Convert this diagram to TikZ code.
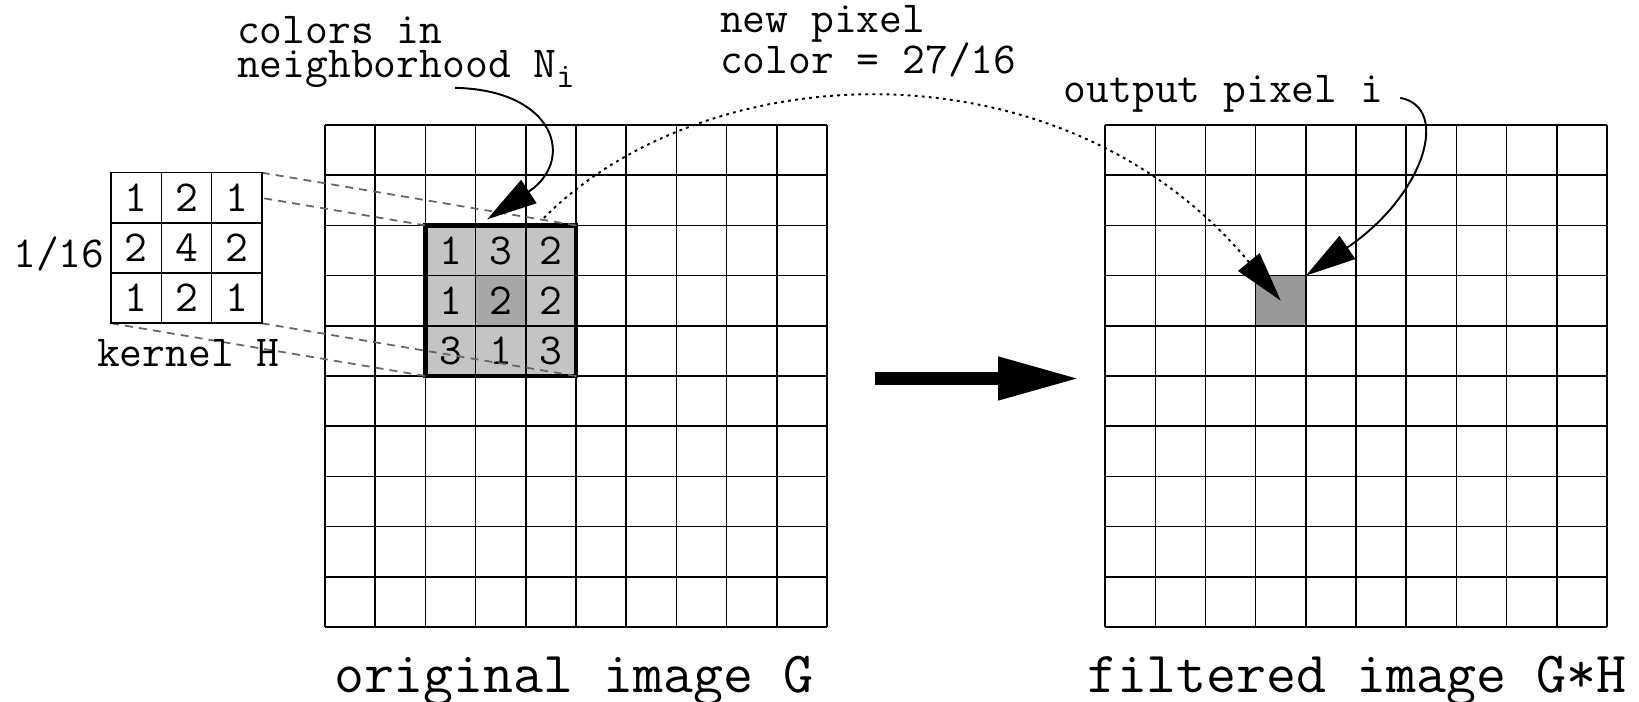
\documentclass[tikz,border=0pt]{standalone}
\usepackage{tikz}
\usepackage{xcolor}
\usetikzlibrary{calc,arrows.meta}

\definecolor{nbgray}{gray}{0.77}
\definecolor{ctrgray}{gray}{0.65}
\definecolor{outgray}{gray}{0.6}
\definecolor{persgray}{gray}{0.4}

\begin{document}
\begin{tikzpicture}[line width=0.9pt]
        \tikzstyle{every node}=[inner sep=0pt, outer sep=0pt]
        \tikzstyle{lbl}=[anchor=base west, align=left, font=\ttfamily\fontsize{25.1}{19.6}\selectfont]
        \tikzstyle{caplbl}=[anchor=base west, font=\ttfamily\fontsize{33}{33}\selectfont]
        \tikzstyle{num}=[font=\ttfamily\fontsize{25.1}{25.1}\selectfont]
        \tikzstyle{persp}=[persgray, line width=1pt, dash pattern=on 4.5pt off 3.5pt]
        \tikzstyle{pointer}=[line width=1.1pt, -{Triangle[length=1cm, width=0.55cm]}]

            \useasboundingbox (-6.474,-1.494) rectangle (26.176,12.49);

            \coordinate (G) at (0,0);
            \coordinate (F) at ($(G)+(15.54,0)$);
            \coordinate (K) at ($(G)+(-4.26,6.05)$);

            % image G with the 3x3 neighborhood
            \fill[nbgray] ($(G)+(2,5)$) rectangle ($(G)+(5,8)$);
            \fill[ctrgray] ($(G)+(3,6)$) rectangle ($(G)+(4,7)$);
            \draw[shift={(G)}] (0,0) grid (10,10);
            \node[draw, line width=2.6pt, minimum size=3cm, anchor=south west] (nbhd) at ($(G)+(2,5)$) {};

            \node[num] (g11) at ($(nbhd.center)+(-1, 1)$) {1};
            \node[num] (g12) at ($(nbhd.center)+( 0, 1)$) {3};
            \node[num] (g13) at ($(nbhd.center)+( 1, 1)$) {2};
            \node[num] (g21) at ($(nbhd.center)+(-1, 0)$) {1};
            \node[num] (g22) at ($(nbhd.center)+( 0, 0)$) {2};
            \node[num] (g23) at ($(nbhd.center)+( 1, 0)$) {2};
            \node[num] (g31) at ($(nbhd.center)+(-1,-1)$) {3};
            \node[num] (g32) at ($(nbhd.center)+( 0,-1)$) {1};
            \node[num] (g33) at ($(nbhd.center)+( 1,-1)$) {3};

            % kernel H
            \path node[minimum size=3cm, anchor=south west] (kernel) at (K) {};
            \draw[persp] (kernel.north west) -- (nbhd.north west);
            \draw[persp] (kernel.north east) -- (nbhd.north east);
            \draw[persp] (kernel.south west) -- (nbhd.south west);
            \draw[persp] (kernel.south east) -- (nbhd.south east);
            \filldraw[fill=white] (kernel.south west) rectangle (kernel.north east);
            \draw[shift={(K)}] (0,0) grid (3,3);

            \node[num] (h11) at ($(kernel.center)+(-1, 1)$) {1};
            \node[num] (h12) at ($(kernel.center)+( 0, 1)$) {2};
            \node[num] (h13) at ($(kernel.center)+( 1, 1)$) {1};
            \node[num] (h21) at ($(kernel.center)+(-1, 0)$) {2};
            \node[num] (h22) at ($(kernel.center)+( 0, 0)$) {4};
            \node[num] (h23) at ($(kernel.center)+( 1, 0)$) {2};
            \node[num] (h31) at ($(kernel.center)+(-1,-1)$) {1};
            \node[num] (h32) at ($(kernel.center)+( 0,-1)$) {2};
            \node[num] (h33) at ($(kernel.center)+( 1,-1)$) {1};

            \node[lbl] (frac) at (-6.21,7.17) {1/16};
            \node[lbl] (klbl) at (-4.54,5.18) {kernel H};

            % filtered image G*H
            \node[fill=outgray, minimum size=1cm, anchor=south west] (outpx) at ($(F)+(3,6)$) {};
            \draw[shift={(F)}] (0,0) grid (10,10);

            % labels
            \node[lbl] (nbtxt) at (-1.75,10.94) {colors in\\neighborhood N\raisebox{-0.22em}{\fontsize{20}{20}\selectfont i}};
            \node[lbl, font=\ttfamily\fontsize{25.1}{23.6}\selectfont] (pxtxt) at (7.87,11.02) {new pixel\\color = 27/16};
            \node[lbl] (outlbl) at (14.72,10.44) {output pixel i};
            \node[caplbl] (glbl) at (0.18,-1.31) {original image G};
            \node[caplbl] (flbl) at (15.18,-1.31) {filtered image G*H};

            % pointers
            \coordinate (nbtail) at ($(nbtxt.base west)+(4.34,-0.2)$);
            \coordinate (nbtip) at ($(nbhd.north)+(-0.27,0.12)$);
            \draw[pointer] (nbtail) .. controls ($(nbtail)+(2.0,-0.04)$) and ($(nbtip)+(1.77,1.18)$) .. (nbtip);

            \coordinate (pxtail) at ($(nbhd.north east)+(-0.64,0.15)$);
            \draw[pointer, dash pattern=on 1.6pt off 2.4pt] (pxtail) .. controls ($(pxtail)+(3.3,3.3)$) and ($(outpx.center)+(-4.3,5.2)$) .. (outpx.center);

            \coordinate (outtail) at ($(outlbl.base east)+(0.34,0.1)$);
            \draw[pointer] (outtail) .. controls ($(outtail)+(1.01,-0.19)$) and ($(outpx.north east)+(2.36,1.6)$) .. (outpx.north east);

            % G -> G*H
            \coordinate (bigtail) at ($(G)+(10.96,4.95)$);
            \coordinate (bigtip) at ($(F)+(-0.5,4.95)$);
            \draw[line width=7.4pt, -{Triangle[length=1.63cm, width=0.8cm]}] (bigtail) -- (bigtip);

        \end{tikzpicture}
\end{document}
